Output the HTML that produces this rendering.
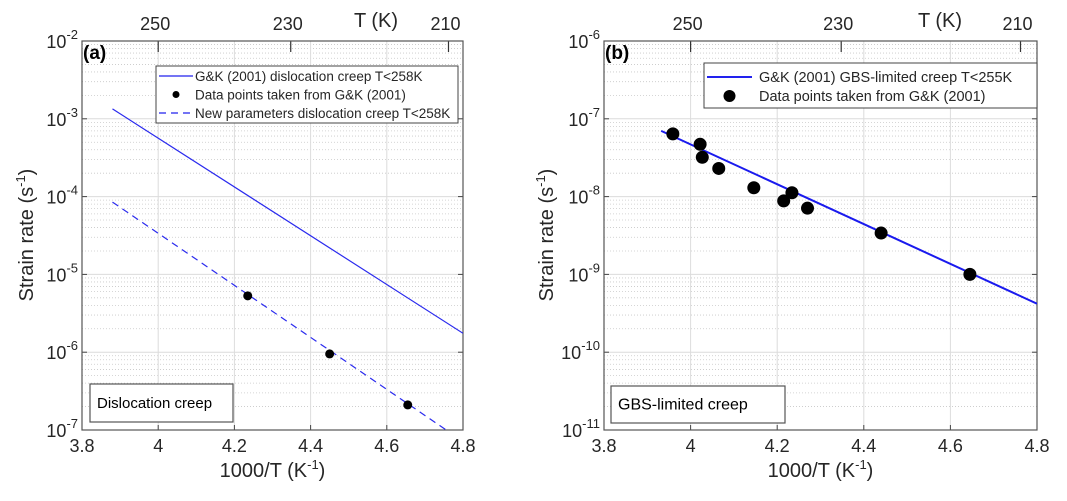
<!DOCTYPE html>
<html><head><meta charset="utf-8"><style>
body{margin:0;background:#fff;}
svg{display:block;font-family:"Liberation Sans",Arial,sans-serif;}
</style></head><body>
<svg id="s" width="1067" height="501" xmlns="http://www.w3.org/2000/svg"></svg>
<script>
// Panel (a) data
const aLineX = [3.88, 4.8];
const aLineY = [1.34e-3, 1.75e-6];
const aDashX = [3.88, 4.756];
const aDashY = [8.5e-5, 1e-7];
const aPtsX = [4.235, 4.45, 4.655];
const aPtsY = [5.3e-6, 9.5e-7, 2.1e-7];
const aDecades = [-2, -3, -4, -5, -6, -7];
// Panel (b) data
const bLineX = [3.932, 4.8];
const bLineY = [7e-8, 4.2e-10];
const bPtsX = [3.959, 4.022, 4.027, 4.065, 4.146, 4.215, 4.234, 4.27, 4.44, 4.645];
const bPtsY = [6.4e-8, 4.7e-8, 3.2e-8, 2.3e-8, 1.3e-8, 8.8e-9, 1.12e-8, 7.1e-9, 3.4e-9, 1.0e-9];
const bDecades = [-6, -7, -8, -9, -10, -11];
const xTicks = [3.8, 4, 4.2, 4.4, 4.6, 4.8];
const xTickLabels = ["3.8", "4", "4.2", "4.4", "4.6", "4.8"];
const tTicks = [250, 230, 210];

const NS = "http://www.w3.org/2000/svg";
const svg = document.getElementById('s');
function mk(tag, attrs, parent){
  const e = document.createElementNS(NS, tag);
  for (const k in attrs) e.setAttribute(k, attrs[k]);
  (parent||svg).appendChild(e);
  return e;
}

function panel(P){
  const g = mk('g', {});
  
  
  const L=P.L, R=P.R, T=41, B=430;
  const top = P.dec[0], bot = P.dec[P.dec.length-1];
  const sx = v => L + (v-3.8)/(1.0)*(R-L);
  const sy = v => T + (top - Math.log10(v))/(top-bot)*(B-T);
  for (let d=bot; d<top; d++){
    for (let m=2;m<=9;m++){
      const y = sy(m*Math.pow(10,d));
      const ln = mk('line',{x1:L,x2:R,y1:y,y2:y,stroke:'#c8c8c8','stroke-width':0.8,'stroke-dasharray':'1,2'},g);
      
      
    }
  }
  P.dec.forEach(d=>{
    const y = sy(Math.pow(10,d));
    const ln = mk('line',{x1:L,x2:R,y1:y,y2:y,stroke:'#dcdcdc','stroke-width':1},g);
    
    
    const t = mk('text',{x:L-4,y:y+7,'font-size':18,fill:'#262626','text-anchor':'end'},g);
    
    
    t.innerHTML='10<tspan font-size="13" dy="-9">'+d+'</tspan>';
    mk('line',{x1:L,x2:L+5,y1:y,y2:y,stroke:'#444'},g);
    mk('line',{x1:R,x2:R-5,y1:y,y2:y,stroke:'#444'},g);
  });
  xTicks.forEach((v,i)=>{
    const x = sx(v);
    if(i>0 && i<xTicks.length-1){
      const ln = mk('line',{x1:x,x2:x,y1:T,y2:B,stroke:'#dcdcdc','stroke-width':1},g);
      
      
    }
    mk('line',{x1:x,x2:x,y1:B,y2:B-5,stroke:'#444'},g);
    const t = mk('text',{x:x,y:B+22,'font-size':18,fill:'#262626','text-anchor':'middle'},g);
    
    
    t.textContent = xTickLabels[i];
  });
  tTicks.forEach(tk=>{
    const x = sx(1000/tk);
    mk('line',{x1:x,x2:x,y1:T,y2:T+11,stroke:'#333','stroke-width':1.2},g);
    const t = mk('text',{x:x-3,y:30,'font-size':18,fill:'#262626','text-anchor':'middle'},g);
    
    
    t.textContent = tk;
  });
  const tk = mk('text',{x:P.tkx,y:27,'font-size':20,fill:'#262626','text-anchor':'middle'},g);
  
  
  tk.textContent='T (K)';
  const fr = mk('rect',{x:L,y:T,width:R-L,height:B-T,fill:'none',stroke:'#555','stroke-width':1.2},g);
  
  
  const cp = mk('clipPath',{id:'c'+P.id},g);
  mk('rect',{x:L,y:T,width:R-L,height:B-T},cp);
  const dg = mk('g',{'clip-path':'url(#c'+P.id+')'},g);
  P.series.forEach(s=>{
    const pts = s.x.map((v,i)=>sx(v)+','+sy(s.y[i])).join(' ');
    const pl = mk('polyline',{points:pts,fill:'none',stroke:s.color,'stroke-width':s.w,'stroke-dasharray':s.dash||'none'},dg);
    
    
  });
  P.ptsX.forEach((v,i)=>{
    const c = mk('circle',{cx:sx(v),cy:sy(P.ptsY[i]),r:P.r,fill:'#000'},dg);
    
    
  });
  const pl = mk('text',{x:L+1,y:59,'font-size':19,'font-weight':'bold',fill:'#000'},g);
  
  
  pl.textContent=P.label;
  const lg = mk('g',{},g);
  
  
  const lb=P.leg;
  mk('rect',{x:lb.x,y:lb.y,width:lb.w,height:lb.h,fill:'#fff',stroke:'#444','stroke-width':1},lg);
  lb.items.forEach((it,i)=>{
    const y = lb.y + lb.first + i*lb.step;
    if(it.type==='line'){
      const l=mk('line',{x1:lb.x+3,x2:lb.x+lb.sw,y1:y,y2:y,stroke:'#2222ee','stroke-width':it.w,'stroke-dasharray':it.dash||'none'},lg);
      
      
    } else {
      const c=mk('circle',{cx:lb.x+3+(lb.sw-3)/2,cy:y,r:it.r,fill:'#000'},lg);
      
      
    }
    const t=mk('text',{x:lb.x+lb.sw+lb.gap,y:y+5,'font-size':lb.fs,fill:'#262626'},lg);
    
    
    t.textContent=it.text;
  });
  const an=P.ann;
  const ab=mk('rect',{x:an.x,y:an.y,width:an.w,height:an.h,fill:'#fff',stroke:'#555','stroke-width':1.2},g);
  
  
  const at=mk('text',{x:an.x+7,y:an.y+an.h/2+5,'font-size':an.fs,fill:'#000'},g);
  
  
  at.textContent=an.text;
  const xt=mk('text',{x:(L+R)/2,y:B+47,'font-size':20,fill:'#262626','text-anchor':'middle'},g);
  
  
  xt.innerHTML='1000/T (K<tspan font-size="13" dy="-8">-1</tspan><tspan dy="8">)</tspan>';
  const yt=mk('text',{x:0,y:0,'font-size':20,fill:'#262626','text-anchor':'middle',transform:'translate('+P.ylx+',235) rotate(-90)'},g);
  
  
  yt.innerHTML='Strain rate (s<tspan font-size="13" dy="-8">-1</tspan><tspan dy="8">)</tspan>';
}

panel({id:'a',name:'panel-a',L:82,R:463,dec:aDecades,label:'(a)',tkx:376,ylx:33,r:4.5,
  series:[{x:aLineX,y:aLineY,color:'#2a2aee',w:1.2,name:'gk-dislocation-line'},
          {x:aDashX,y:aDashY,color:'#2a2aee',w:1.2,dash:'7,5',name:'new-params-dashed-line'}],
  ptsX:aPtsX,ptsY:aPtsY,
  leg:{x:156,y:66,w:302,h:57,first:10,step:18.5,sw:37,gap:2,fs:13.5,items:[
    {type:'line',w:1.2,text:'G&K (2001) dislocation creep T<258K'},
    {type:'dot',r:3.5,text:'Data points taken from G&K (2001)'},
    {type:'line',w:1.2,dash:'7,5',text:'New parameters dislocation creep T<258K'}]},
  ann:{x:90,y:384,w:143,h:38,fs:15,text:'Dislocation creep'}});
panel({id:'b',name:'panel-b',L:604,R:1037,dec:bDecades,label:'(b)',tkx:940,ylx:553,r:6.5,
  series:[{x:bLineX,y:bLineY,color:'#1a1aee',w:2,name:'gk-gbs-line'}],
  ptsX:bPtsX,ptsY:bPtsY,
  leg:{x:704,y:63,w:333,h:45,first:14,step:19,sw:48,gap:7,fs:14.5,items:[
    {type:'line',w:2,text:'G&K (2001) GBS-limited creep T<255K'},
    {type:'dot',r:6,text:'Data points taken from G&K (2001)'}]},
  ann:{x:611,y:386,w:174,h:37,fs:16,text:'GBS-limited creep'}});
</script>
</body></html>
